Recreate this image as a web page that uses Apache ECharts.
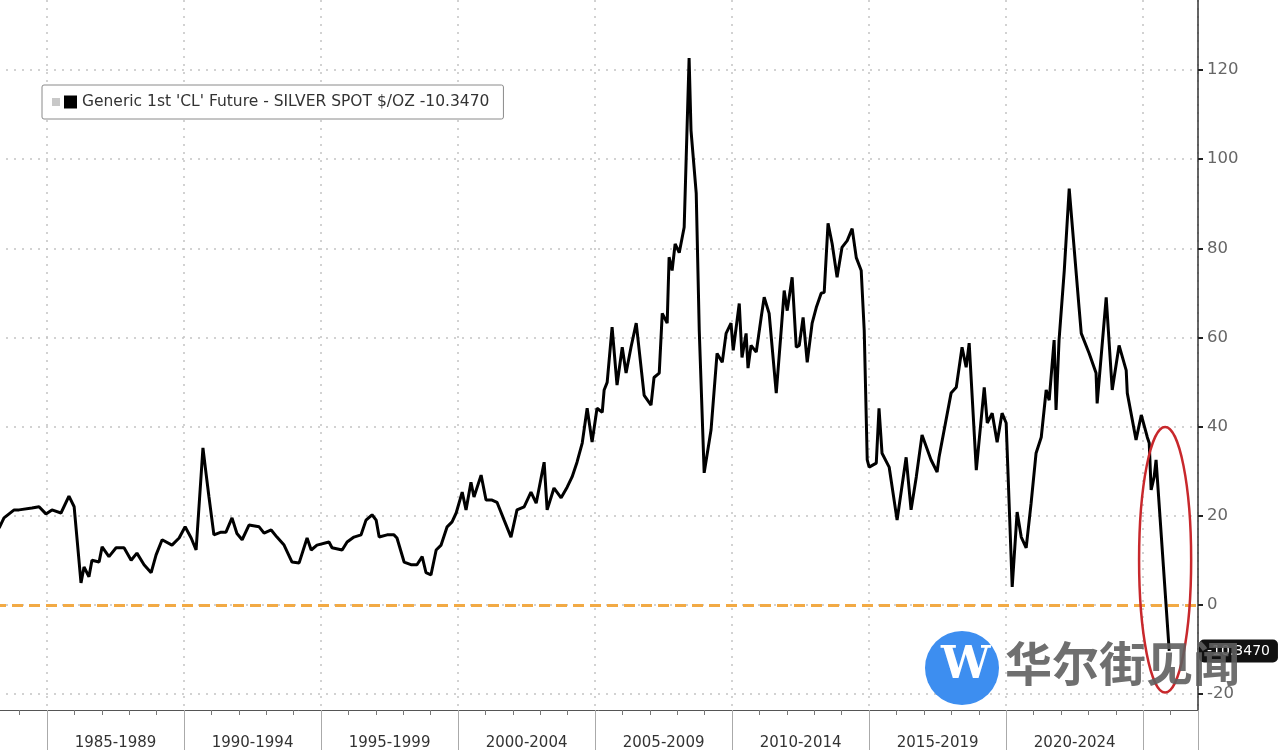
<!DOCTYPE html>
<html>
<head>
<meta charset="utf-8">
<script src="https://cdn.jsdelivr.net/npm/echarts@6/dist/echarts.min.js"></script>
<style>
  html, body { margin: 0; padding: 0; background: #fff; }
  #spread { width: 1280px; height: 750px; }
</style>
</head>
<body>
<div id="spread"></div>
<script>
// CL 1st future minus silver spot (decimal year, $)
var years = [
  1983.25, 1983.43, 1983.80, 1983.98, 1984.45, 1984.71, 1984.96, 1985.18, 1985.51, 1985.80,
  1985.99, 1986.24, 1986.35, 1986.53, 1986.64, 1986.90, 1987.01, 1987.26, 1987.52, 1987.81,
  1988.07, 1988.28, 1988.54, 1988.80, 1988.98, 1989.20, 1989.56, 1989.82, 1990.04, 1990.26,
  1990.44, 1990.69, 1990.80, 1990.91, 1991.09, 1991.35, 1991.53, 1991.75, 1991.93, 1992.12,
  1992.37, 1992.74, 1992.92, 1993.18, 1993.39, 1993.65, 1993.94, 1994.20, 1994.49, 1994.64,
  1994.85, 1995.29, 1995.40, 1995.77, 1995.95, 1996.20, 1996.46, 1996.64, 1996.86, 1997.01,
  1997.12, 1997.41, 1997.66, 1997.77, 1998.03, 1998.28, 1998.50, 1998.69, 1998.83, 1999.01,
  1999.20, 1999.38, 1999.60, 1999.78, 1999.93, 2000.15, 2000.29, 2000.47, 2000.58, 2000.84,
  2001.02, 2001.24, 2001.42, 2001.68, 2001.93, 2002.15, 2002.41, 2002.66, 2002.85, 2003.14,
  2003.25, 2003.50, 2003.76, 2003.98, 2004.16, 2004.34, 2004.53, 2004.71, 2004.89, 2005.07,
  2005.26, 2005.33, 2005.44, 2005.62, 2005.80, 2005.99, 2006.13, 2006.31, 2006.50, 2006.79,
  2007.04, 2007.15, 2007.34, 2007.45, 2007.63, 2007.70, 2007.81, 2007.92, 2008.07, 2008.25,
  2008.43, 2008.50, 2008.69, 2008.80, 2008.98, 2009.23, 2009.45, 2009.64, 2009.78, 2009.96,
  2010.04, 2010.26, 2010.36, 2010.51, 2010.58, 2010.69, 2010.88, 2011.06, 2011.17, 2011.35,
  2011.61, 2011.79, 2011.90, 2012.01, 2012.19, 2012.34, 2012.45, 2012.59, 2012.74, 2012.92,
  2013.07, 2013.25, 2013.36, 2013.50, 2013.65, 2013.83, 2014.01, 2014.20, 2014.38, 2014.53,
  2014.71, 2014.82, 2014.93, 2015.00, 2015.26, 2015.36, 2015.47, 2015.73, 2016.02, 2016.35,
  2016.53, 2016.72, 2016.93, 2017.26, 2017.48, 2017.55, 2017.99, 2018.18, 2018.39, 2018.54,
  2018.65, 2018.91, 2019.20, 2019.31, 2019.49, 2019.67, 2019.85, 2020.00, 2020.22, 2020.40,
  2020.55, 2020.73, 2020.91, 2021.09, 2021.28, 2021.46, 2021.57, 2021.75, 2021.82, 2021.93,
  2022.12, 2022.30, 2022.66, 2022.74, 2023.03, 2023.28, 2023.32, 2023.65, 2023.87, 2024.12,
  2024.38, 2024.42, 2024.74, 2024.93, 2025.15, 2025.22, 2025.29, 2025.40, 2025.47, 2025.95
]
var spread = [
  17.2, 19.5, 21.3, 21.3, 21.7, 22.0, 20.4, 21.3, 20.6, 24.4,
  22.0, 4.9, 8.5, 6.3, 10.0, 9.6, 13.0, 10.8, 12.8, 12.8,
  10.0, 11.6, 9.0, 7.2, 11.2, 14.6, 13.4, 15.0, 17.5, 15.0,
  12.3, 35.2, 29.6, 24.2, 15.7, 16.3, 16.3, 19.5, 16.0, 14.6,
  17.9, 17.5, 16.1, 16.8, 15.2, 13.4, 9.6, 9.4, 15.0, 12.3,
  13.4, 14.1, 12.8, 12.3, 14.1, 15.2, 15.7, 19.0, 20.2, 19.0,
  15.2, 15.7, 15.7, 15.0, 9.6, 9.0, 9.0, 10.8, 7.2, 6.7,
  12.3, 13.4, 17.5, 18.6, 20.6, 25.3, 21.3, 27.5, 24.2, 29.1,
  23.5, 23.5, 23.0, 19.0, 15.2, 21.3, 22.0, 25.3, 22.8, 32.0,
  21.3, 26.2, 24.0, 26.4, 28.7, 32.0, 36.3, 44.1, 36.5, 44.1,
  43.2, 48.2, 49.9, 62.3, 49.3, 57.8, 52.0, 57.8, 63.2, 47.0,
  44.8, 51.0, 52.0, 65.4, 63.2, 78.0, 75.0, 81.0, 79.0, 84.7,
  122.7, 106.4, 92.3, 61.6, 29.6, 39.2, 56.4, 54.4, 60.9, 63.2,
  57.1, 67.6, 55.5, 60.9, 53.1, 58.2, 56.7, 64.5, 69.0, 65.4,
  47.5, 61.6, 70.5, 66.0, 73.5, 57.8, 58.2, 64.5, 54.4, 63.2,
  66.7, 69.9, 70.1, 85.6, 81.0, 73.5, 80.2, 81.7, 84.4, 77.9,
  75.0, 61.6, 32.5, 30.9, 31.8, 44.1, 34.0, 30.9, 19.0, 33.1,
  21.3, 28.7, 38.1, 32.5, 29.8, 33.1, 47.5, 48.8, 57.8, 53.3,
  58.7, 30.2, 48.8, 40.8, 43.0, 36.5, 43.0, 40.8, 4.0, 20.8,
  15.2, 12.8, 22.8, 34.0, 37.6, 48.2, 45.9, 59.4, 43.7, 59.4,
  75.0, 93.4, 66.7, 60.9, 56.4, 52.0, 45.2, 69.0, 48.2, 58.2,
  52.6, 47.5, 37.0, 42.6, 37.6, 36.3, 25.8, 28.7, 32.5, -10.347
]
var yTicks = [-20, 0, 20, 40, 60, 80, 100, 120]
var lastValue = '-10.3470'
var seriesName = "Generic 1st 'CL' Future - SILVER SPOT $/OZ -10.3470"
// red ring drawn round the last stretch: centre year, centre value, half-width in years, half-height in $
var ringCenter = [2025.8, 10.1]
var ringRadius = [0.95, 29.8]

var points = years.map(function (y, i) { return [y, spread[i]] })

var chart = echarts.init(document.getElementById('spread'))
var options = {
  animation: false,
  backgroundColor: '#fff',
  textStyle: { fontFamily: 'DejaVu Sans' },
  grid: {
    left: -90,
    right: 82,
    top: 0,
    bottom: 40,
    containLabel: false,
    outerBoundsMode: 'none'
  },
  legend: {
    left: 42,
    top: 85,
    padding: [9, 14, 9, 22],
    borderColor: '#8a8a8a',
    borderWidth: 1,
    borderRadius: 2,
    backgroundColor: '#fff',
    icon: 'rect',
    itemWidth: 13,
    itemHeight: 13,
    itemGap: 5,
    textStyle: { fontSize: 15.5, color: '#333', fontFamily: 'DejaVu Sans' },
    data: [seriesName]
  },
  xAxis: {
    type: 'value',
    min: 1980,
    max: 2027,
    interval: 5,
    axisLine: { onZero: false, lineStyle: { color: '#555', width: 1 } },
    axisTick: { length: 40, lineStyle: { color: '#aaa' } },
    minorTick: { show: true, splitNumber: 5, length: 5, lineStyle: { color: '#777' } },
    axisLabel: {
      margin: 26,
      fontSize: 15,
      color: '#333',
      align: 'center',
      padding: [0, 0, 0, 137],
      formatter: function (v) {
        if (v < 1985 || v >= 2025) return ''
        return v + '-' + (v + 4)
      }
    },
    splitLine: { show: true, lineStyle: { color: '#c4c4c4', type: [2, 6], width: 1.5 } }
  },
  yAxis: {
    type: 'value',
    position: 'right',
    min: -23.6,
    max: 135.7,
    axisLine: { show: true, lineStyle: { color: '#333', width: 1.5 } },
    axisTick: { show: true, length: 5, customValues: yTicks, lineStyle: { color: '#222', width: 2 } },
    axisLabel: { margin: 9, fontSize: 16.5, color: '#666', customValues: yTicks },
    splitLine: { show: true, lineStyle: { color: '#c4c4c4', type: [2, 6], width: 1.5 } }
  },
  series: [{
    name: seriesName,
    type: 'line',
    data: points,
    showSymbol: false,
    lineStyle: { color: '#000', width: 3 },
    itemStyle: { color: '#000' },
    z: 5,
    markLine: {
      silent: true,
      symbol: 'none',
      data: [
        {
          yAxis: 0,
          lineStyle: { color: '#f2aa45', width: 3, type: [11, 6] },
          label: { show: false }
        },
        {
          yAxis: -10.347,
          lineStyle: { color: 'rgba(0,0,0,0)', width: 0 },
          label: {
            show: true,
            position: 'end',
            distance: 1,
            formatter: lastValue,
            color: '#fff',
            fontSize: 14,
            backgroundColor: '#111',
            borderRadius: 5,
            padding: [5, 8, 4, 8]
          }
        }
      ]
    }
  }]
}
chart.setOption(options)

// annotation ring + watermark
var c = chart.convertToPixel({ gridIndex: 0 }, ringCenter)
var e = chart.convertToPixel({ gridIndex: 0 }, [ringCenter[0] + ringRadius[0], ringCenter[1] + ringRadius[1]])
chart.setOption({
  graphic: [
    {
      type: 'rect',
      left: 52,
      top: 98,
      shape: { width: 8, height: 8 },
      style: { fill: '#c8c8c8' },
      z: 100
    },
    {
      type: 'ellipse',
      shape: { cx: c[0], cy: c[1], rx: Math.abs(e[0] - c[0]), ry: Math.abs(e[1] - c[1]) },
      style: { fill: 'none', stroke: '#c8282c', lineWidth: 2.5 },
      z: 50
    },
    {
      type: 'circle',
      shape: { cx: 962, cy: 668, r: 37 },
      style: { fill: '#3d8ef0' },
      z: 120
    },
    {
      type: 'text',
      left: 941,
      top: 645,
      style: { text: 'W', fill: '#fff', font: 'bold 44px "DejaVu Serif"' },
      z: 121
    },
    {
      type: 'text',
      left: 1005,
      top: 640,
      style: { text: '华尔街见闻', fill: 'rgba(95,95,95,0.9)', font: 'bold 47px "Noto Sans CJK SC"' },
      z: 121
    }
  ]
})

window.addEventListener('resize', function () {
  chart.resize()
})
</script>
</body>
</html>
